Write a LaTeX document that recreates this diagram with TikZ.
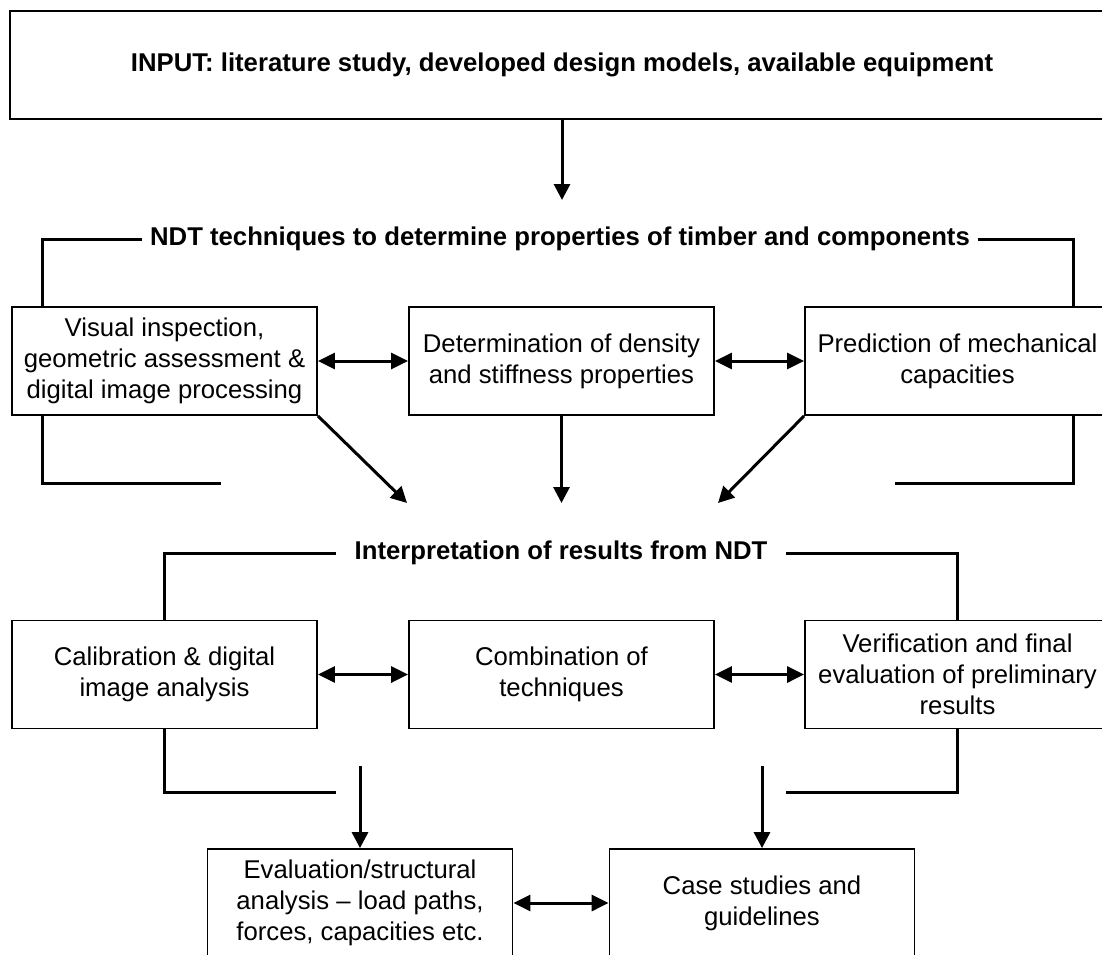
\documentclass[tikz,border=0pt]{standalone}
\usepackage{fontspec}
\setmainfont{Liberation Sans}
\usepackage{tikz}
\usetikzlibrary{arrows.meta, positioning, calc}

\begin{document}
\begin{tikzpicture}[x=0.5pt, y=-0.5pt,
  font=\fontsize{12.85}{15.5}\selectfont,
  box/.style={draw, line width=0.9pt, minimum width=152.5pt, minimum height=54pt,
    align=center, inner sep=0pt},
  head/.style={font=\fontsize{12.85}{15.5}\selectfont\bfseries, inner ysep=2pt},
  bracket/.style={line width=1.5pt},
  arr/.style={line width=1.5pt, -{Triangle[length=8pt, width=8pt]}},
  dblarr/.style={line width=1.5pt,
    {Triangle[length=8.5pt, width=8pt]}-{Triangle[length=8.5pt, width=8pt]}}]
  \useasboundingbox (0,0) rectangle (1102,954);
  \clip (0,0) rectangle (1102,954);
  % Input
  \node[box, minimum width=552pt, font=\fontsize{12.85}{15.5}\selectfont\bfseries]
    (input) at (562,65) {INPUT: literature study, developed design models, available equipment};
  \coordinate (ndtin) at (562,200);
  \draw[arr] (input.south) -- (ndtin);
  % NDT techniques
  \node[head, inner xsep=3.75pt] (ndt) at (560,239)
    {NDT techniques to determine properties of timber and components};
  \node[box] (vis) at (164.5,361) {Visual inspection,\\geometric assessment \&\\digital image processing};
  \node[box] (dens) at (561.5,361) {Determination of density\\and stiffness properties};
  \node[box] (pred) at (957.5,361) {Prediction of mechanical\\capacities};
  \draw[bracket] (ndt.west) -| ([xshift=15.5pt]vis.north west);
  \draw[bracket] (ndt.east) -| ([xshift=-18.5pt]pred.north east);
  \draw[dblarr] (vis.east) -- (dens.west);
  \draw[dblarr] (dens.east) -- (pred.west);
  \coordinate (l1end) at (221,483);
  \coordinate (r1end) at (895,483);
  \draw[bracket] ([xshift=15.5pt]vis.south west) |- (l1end);
  \draw[bracket] ([xshift=-18.5pt]pred.south east) |- (r1end);
  \coordinate (in1) at (407,503);
  \coordinate (in2) at (561.5,503);
  \coordinate (in3) at (718,503);
  \draw[arr] (vis.south east) -- (in1);
  \draw[arr] (dens.south) -- (in2);
  \draw[arr] (pred.south west) -- (in3);
  % Interpretation
  \node[head, inner xsep=9.25pt] (interp) at (561,553) {Interpretation of results from NDT};
  \node[box] (cal) at (164.5,674.5) {Calibration \& digital\\image analysis};
  \node[box] (comb) at (561.5,674.5) {Combination of\\techniques};
  \node[box] (ver) at (957.5,674.5) {Verification and final\\evaluation of preliminary\\results};
  \draw[bracket] (interp.west) -| (cal.north);
  \draw[bracket] (interp.east) -| (ver.north);
  \draw[dblarr] (cal.east) -- (comb.west);
  \draw[dblarr] (comb.east) -- (ver.west);
  \coordinate (l2end) at (336,792);
  \coordinate (r2end) at (786,792);
  \draw[bracket] (cal.south) |- (l2end);
  \draw[bracket] (ver.south) |- (r2end);
  % Output
  \node[box] (eval) at (360,903) {Evaluation/structural\\analysis -- load paths,\\forces, capacities etc.};
  \node[box] (case) at (762,903) {Case studies and\\guidelines};
  \coordinate (s1) at (360,766);
  \coordinate (s2) at (762,766);
  \draw[arr] (s1) -- (eval.north);
  \draw[arr] (s2) -- (case.north);
  \draw[dblarr] (eval.east) -- (case.west);
\end{tikzpicture}
\end{document}
